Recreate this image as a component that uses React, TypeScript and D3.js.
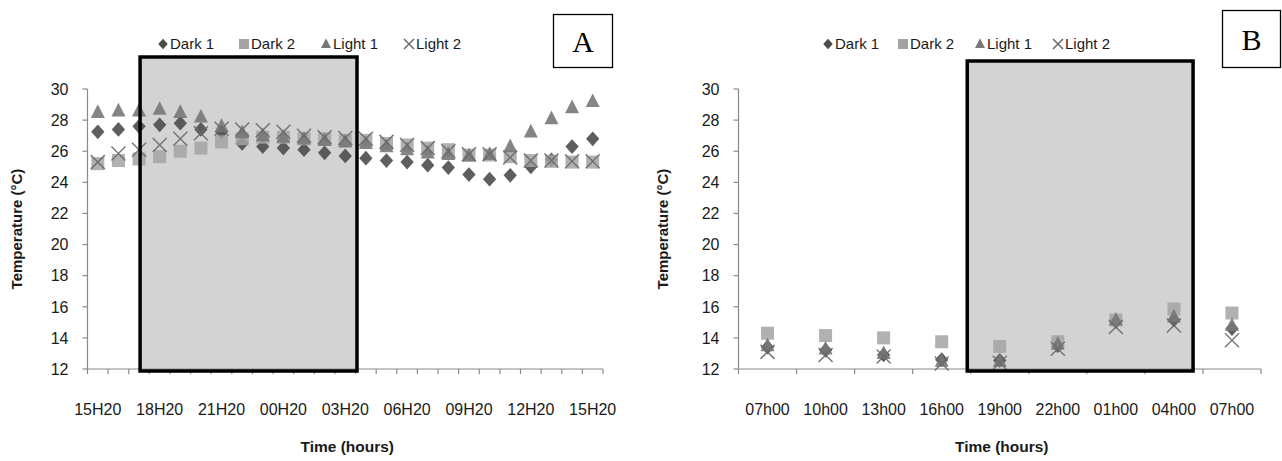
import React from "react";
import * as d3 from "d3";

// ---------- DATA ----------
const categoriesA = [
  "15H20", "16H20", "17H20", "18H20", "19H20", "20H20", "21H20", "22H20", "23H20",
  "00H20", "01H20", "02H20", "03H20", "04H20", "05H20", "06H20", "07H20", "08H20",
  "09H20", "10H20", "11H20", "12H20", "13H20", "14H20", "15H20",
];
const dark1A = [27.25, 27.4, 27.6, 27.7, 27.8, 27.4, 27.25, 26.5, 26.3, 26.2, 26.1, 25.9, 25.7, 25.55, 25.4, 25.3, 25.1, 24.95, 24.5, 24.2, 24.45, 25.0, 25.45, 26.3, 26.8];
const dark2A = [25.2, 25.4, 25.5, 25.65, 26.0, 26.2, 26.6, 26.8, 26.9, 26.9, 26.8, 26.8, 26.7, 26.7, 26.5, 26.4, 26.2, 26.1, 25.75, 25.75, 25.65, 25.4, 25.35, 25.3, 25.3];
const light1A = [28.5, 28.6, 28.6, 28.7, 28.5, 28.2, 27.6, 27.2, 27.0, 26.9, 26.8, 26.7, 26.6, 26.5, 26.3, 26.1, 25.9, 25.8, 25.7, 25.8, 26.3, 27.25, 28.1, 28.8, 29.2];
const light2A = [25.3, 25.85, 26.1, 26.4, 26.8, 27.15, 27.45, 27.4, 27.35, 27.25, 27.0, 26.9, 26.85, 26.8, 26.6, 26.4, 26.2, 26.0, 25.8, 25.8, 25.6, 25.4, 25.4, 25.35, 25.35];
const darkPeriodA = [2.05, 12.57]; // in category index units

const categoriesB = ["07h00", "10h00", "13h00", "16h00", "19h00", "22h00", "01h00", "04h00", "07h00"];
const dark1B = [13.4, 13.2, 12.9, 12.6, 12.55, 13.5, 15.05, 15.15, 14.6];
const dark2B = [14.3, 14.15, 14.0, 13.75, 13.45, 13.75, 15.15, 15.85, 15.6];
const light1B = [13.5, 13.3, 13.0, 12.5, 12.5, 13.6, 15.15, 15.35, 14.8];
const light2B = [13.1, 12.9, 12.8, 12.35, 12.4, 13.3, 14.7, 14.8, 13.85];
const darkPeriodB = [3.44, 7.33];

const yTicks = [12, 14, 16, 18, 20, 22, 24, 26, 28, 30];
const seriesNames = ["Dark 1", "Dark 2", "Light 1", "Light 2"];

// ---------- STYLE ----------
const COLORS = ["#4c4c4c", "#a3a3a3", "#787878", "#6a6a6a"];
const AXIS = "#8a8a8a";
const FONT = "'Liberation Sans', Arial, sans-serif";
const TEXT = "#1a1a1a";

function Marker({ kind, x, y, s, opacity = 0.9 }: { kind: number; x: number; y: number; s: number; opacity?: number }) {
  const h = s / 2;
  if (kind === 0) {
    return <path d={`M${x},${y - h * 1.05}L${x + h * 0.95},${y}L${x},${y + h * 1.05}L${x - h * 0.95},${y}Z`} fill={COLORS[0]} opacity={opacity} />;
  }
  if (kind === 1) {
    return <rect x={x - h} y={y - h} width={s} height={s} fill={COLORS[1]} opacity={opacity} />;
  }
  if (kind === 2) {
    return <path d={`M${x},${y - h * 1.15}L${x + h},${y + h * 0.8}L${x - h},${y + h * 0.8}Z`} fill={COLORS[2]} opacity={opacity} />;
  }
  return (
    <path d={`M${x - h},${y - h}L${x + h},${y + h}M${x - h},${y + h}L${x + h},${y - h}`} stroke={COLORS[3]} strokeWidth={1.5} fill="none" opacity={opacity} />
  );
}

type PanelProps = {
  cats: string[];
  series: number[][];
  xRange: [number, number];
  labelEvery: number;
  dark: number[];
  rectTop: number;
  yTitleX: number;
  legendX: number[];
  box: { x: number; y: number; w: number; h: number; label: string };
};

function Panel(p: PanelProps) {
  const yTop = 89;
  const yBot = 369;
  const y = d3.scaleLinear().domain([12, 30]).range([yBot, yTop]);
  const idx = p.cats.map((_, i) => i);
  const x = d3.scaleBand<number>().domain(idx).range(p.xRange).paddingInner(0).paddingOuter(0);
  const step = x.step();
  const cx = (i: number) => (x(0) as number) + step / 2 + i * step;
  const x0 = p.xRange[0];
  const x1 = p.xRange[1];
  const boundaries = d3.range(p.cats.length + 1).map((i) => x0 + i * step);
  const rl = cx(p.dark[0]);
  const rr = cx(p.dark[1]);
  const sizes = [14, 13, 14, 14];
  return (
    <g>
      <rect x={rl} y={p.rectTop} width={rr - rl} height={yBot - p.rectTop + 2} fill="#d3d3d3" />
      <line x1={x0} x2={x0} y1={yTop} y2={yBot} stroke={AXIS} strokeWidth={1.2} />
      {yTicks.map((t) => (
        <g key={t}>
          <line x1={x0 - 5} x2={x0} y1={y(t)} y2={y(t)} stroke={AXIS} strokeWidth={1.2} />
          <text x={x0 - 19} y={y(t)} dy="0.36em" textAnchor="end" fontSize={16} fill={TEXT} fontFamily={FONT}>
            {t}
          </text>
        </g>
      ))}
      <line x1={x0} x2={x1} y1={yBot} y2={yBot} stroke={AXIS} strokeWidth={1.2} />
      {boundaries.map((b, i) => (
        <line key={i} x1={b} x2={b} y1={yBot} y2={yBot + 5} stroke={AXIS} strokeWidth={1.2} />
      ))}
      {p.cats.map((c, i) =>
        i % p.labelEvery === 0 ? (
          <text key={i} x={cx(i)} y={415} textAnchor="middle" fontSize={16} fill={TEXT} fontFamily={FONT}>
            {c}
          </text>
        ) : null
      )}
      {p.series.map((vals, si) => (
        <g key={si}>
          {vals.map((v, i) => (
            <Marker key={i} kind={si} x={cx(i)} y={y(v)} s={sizes[si]} opacity={si === 1 ? 0.85 : 0.9} />
          ))}
        </g>
      ))}
      <rect x={rl} y={p.rectTop} width={rr - rl} height={yBot - p.rectTop + 2} fill="none" stroke="#000" strokeWidth={3.5} />
      <text
        transform={`translate(${p.yTitleX},${(yTop + yBot) / 2}) rotate(-90)`}
        textAnchor="middle"
        dy="0.35em"
        fontSize={15}
        fontWeight="bold"
        fill={TEXT}
        fontFamily={FONT}
      >
        Temperature (°C)
      </text>
      <text x={(x0 + x1) / 2 + 2} y={452} textAnchor="middle" fontSize={15.5} fontWeight="bold" fill={TEXT} fontFamily={FONT}>
        Time (hours)
      </text>
      {seriesNames.map((n, i) => (
        <g key={n}>
          <Marker kind={i} x={p.legendX[i] + 5} y={44} s={10} opacity={1} />
          <text x={p.legendX[i] + 12} y={44} dy="0.36em" fontSize={15} fill={TEXT} fontFamily={FONT}>
            {n}
          </text>
        </g>
      ))}
      <rect x={p.box.x} y={p.box.y} width={p.box.w} height={p.box.h} fill="#fff" stroke="#000" strokeWidth={1.3} />
      <text
        x={p.box.x + p.box.w / 2}
        y={p.box.y + p.box.h / 2}
        dy="0.35em"
        textAnchor="middle"
        fontSize={30}
        fontFamily="'Liberation Serif', 'Times New Roman', serif"
        fill="#000"
      >
        {p.box.label}
      </text>
    </g>
  );
}

export default function App() {
  return (
    <svg width={1282} height={461} style={{ position: "absolute", left: 0, top: 0, background: "#fff" }}>
      <rect x={0} y={0} width={1282} height={461} fill="#fff" />
      <Panel
        cats={categoriesA}
        series={[dark1A, dark2A, light1A, light2A]}
        xRange={[87.5, 603]}
        labelEvery={3}
        dark={darkPeriodA}
        rectTop={57}
        yTitleX={17}
        legendX={[158, 239, 321, 404]}
        box={{ x: 553.5, y: 14.5, w: 59, h: 53, label: "A" }}
      />
      <Panel
        cats={categoriesB}
        series={[dark1B, dark2B, light1B, light2B]}
        xRange={[738.5, 1261]}
        labelEvery={1}
        dark={darkPeriodB}
        rectTop={61}
        yTitleX={663}
        legendX={[823, 898, 975, 1053]}
        box={{ x: 1222.5, y: 10.5, w: 58, h: 57, label: "B" }}
      />
    </svg>
  );
}
